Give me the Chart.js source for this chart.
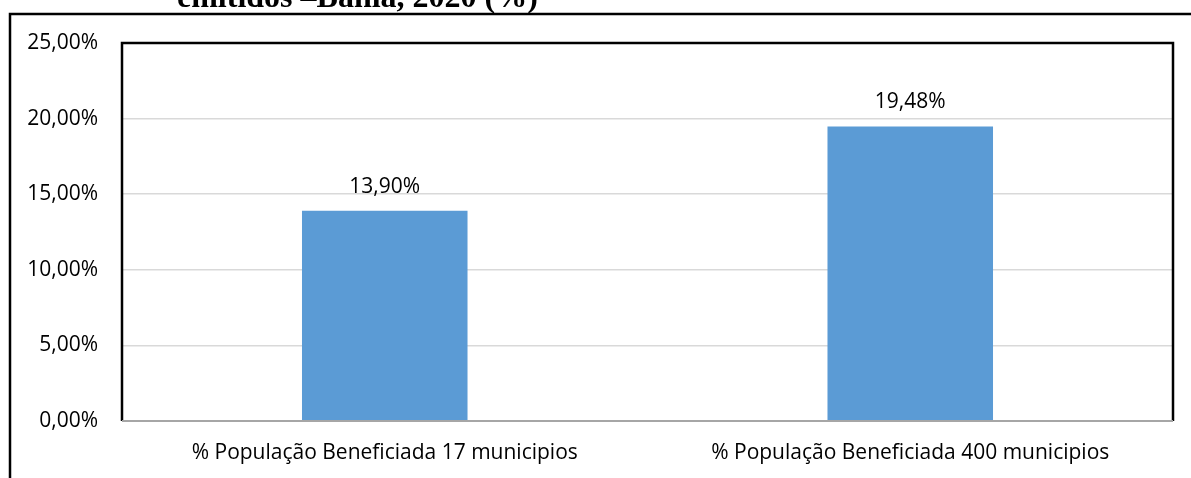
<!DOCTYPE html>
<html lang="pt">
<head>
    <meta charset="UTF-8">
    <title>População beneficiada - Bahia, 2020</title>
    <script src="https://cdn.jsdelivr.net/npm/chart.js"></script>
    <style>
        html, body {
            margin: 0;
            padding: 0;
            background: #fff;
        }
        .wrapper {
            width: 1191px;
            height: 478px;
            position: relative;
        }
    </style>
</head>
<body>
    <div class="wrapper">
        <canvas id="beneficiadaChart"></canvas>
    </div>

    <script>
        const categories = ['% População Beneficiada 17 municipios', '% População Beneficiada 400 municipios'];
        const percentValues = [13.90, 19.48];
        const yTicks = [0, 5, 10, 15, 20, 25];
        const titleText = 'emitidos –Bahia, 2020 (%)';

        const fmt = v => v.toFixed(2).replace('.', ',') + '%';
        const labelFont = '"Open Sans", "Noto Sans", sans-serif';

        // frame, partial title and the black plot box
        const framePlugin = {
            id: 'frame',
            beforeDraw(chart) {
                const ctx = chart.ctx;
                ctx.save();
                ctx.fillStyle = '#000';
                ctx.font = 'bold 32px "Liberation Serif", "Times New Roman", serif';
                ctx.textAlign = 'left';
                ctx.textBaseline = 'alphabetic';
                ctx.fillText(titleText, 177, 7);
                ctx.strokeStyle = '#000';
                ctx.lineWidth = 2.5;
                ctx.beginPath();
                ctx.moveTo(10, 500);
                ctx.lineTo(10, 14);
                ctx.lineTo(1200, 14);
                ctx.stroke();
                ctx.restore();
            },
            afterDatasetsDraw(chart) {
                const { ctx, chartArea: a } = chart;
                ctx.save();
                ctx.strokeStyle = '#000';
                ctx.lineWidth = 2.5;
                ctx.beginPath();
                ctx.moveTo(a.left, a.bottom);
                ctx.lineTo(a.left, a.top);
                ctx.lineTo(a.right, a.top);
                ctx.lineTo(a.right, a.bottom);
                ctx.stroke();
                ctx.strokeStyle = '#a6a6a6';
                ctx.lineWidth = 2;
                ctx.beginPath();
                ctx.moveTo(a.left, a.bottom);
                ctx.lineTo(a.right, a.bottom);
                ctx.stroke();
                // values above bars
                const meta = chart.getDatasetMeta(0);
                ctx.fillStyle = '#000';
                ctx.font = '21px ' + labelFont;
                ctx.textAlign = 'center';
                ctx.textBaseline = 'alphabetic';
                meta.data.forEach((bar, i) => {
                    ctx.fillText(fmt(percentValues[i]), bar.x, bar.y - 18);
                });
                ctx.restore();
            }
        };

        const ctx = document.getElementById('beneficiadaChart').getContext('2d');
        new Chart(ctx, {
            type: 'bar',
            data: {
                labels: categories,
                datasets: [{
                    data: percentValues,
                    backgroundColor: '#5b9bd5',
                    borderWidth: 0,
                    categoryPercentage: 0.63,
                    barPercentage: 0.5
                }]
            },
            options: {
                responsive: true,
                maintainAspectRatio: false,
                animation: false,
                layout: {
                    padding: { left: 0, top: 43, right: 18, bottom: 0 }
                },
                scales: {
                    y: {
                        min: 0,
                        max: 25,
                        afterFit: s => { s.width = 122; },
                        afterBuildTicks: s => { s.ticks = yTicks.map(v => ({ value: v })); },
                        border: { display: false },
                        grid: {
                            color: '#d9d9d9',
                            lineWidth: 1.5,
                            drawTicks: false
                        },
                        ticks: {
                            color: '#000',
                            padding: 24,
                            font: { family: labelFont, size: 21 },
                            callback: v => fmt(v)
                        }
                    },
                    x: {
                        afterFit: s => { s.height = 57; },
                        border: { display: false },
                        grid: { display: false, drawTicks: false },
                        ticks: {
                            color: '#000',
                            padding: 19,
                            maxRotation: 0,
                            font: { family: labelFont, size: 21 }
                        }
                    }
                },
                plugins: {
                    legend: { display: false },
                    tooltip: { enabled: false },
                    title: { display: false }
                }
            },
            plugins: [framePlugin]
        });
    </script>
</body>
</html>
